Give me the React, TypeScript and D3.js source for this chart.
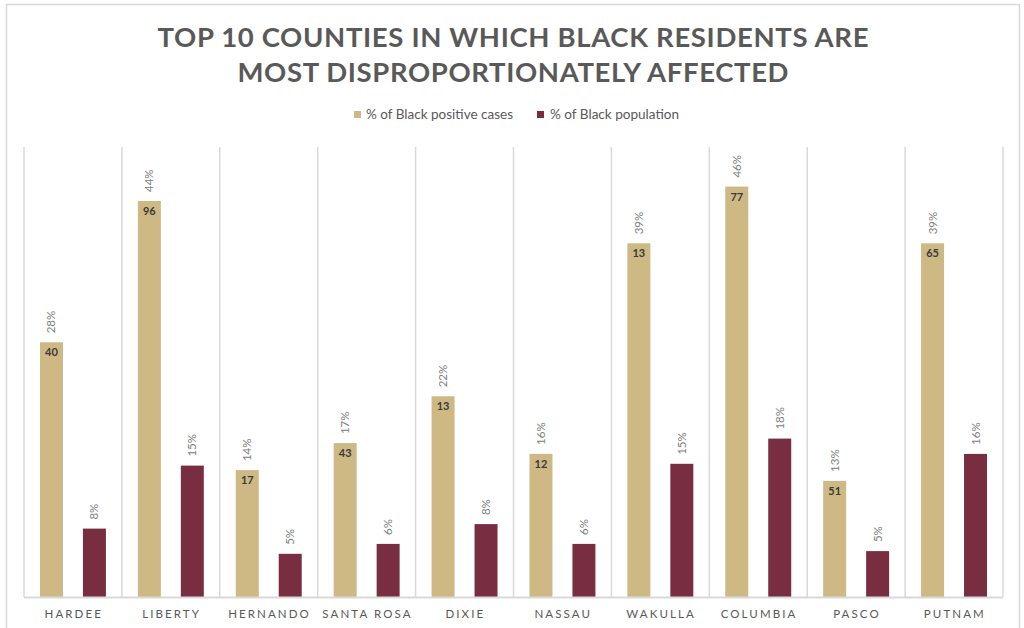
import React from "react";
import * as d3 from "d3";

const counties = ["HARDEE", "LIBERTY", "HERNANDO", "SANTA ROSA", "DIXIE", "NASSAU", "WAKULLA", "COLUMBIA", "PASCO", "PUTNAM"];
const positiveShare = [0.283, 0.44, 0.141, 0.171, 0.223, 0.159, 0.393, 0.456, 0.129, 0.393];
const populationShare = [0.076, 0.146, 0.048, 0.059, 0.081, 0.059, 0.148, 0.176, 0.051, 0.159];
const positiveCounts = ["40", "96", "17", "43", "13", "12", "13", "77", "51", "65"];
const seriesNames = ["% of Black positive cases", "% of Black population"];
const titleLines = ["TOP 10 COUNTIES IN WHICH BLACK RESIDENTS ARE", "MOST DISPROPORTIONATELY AFFECTED"];

const GOLD = "#CEB883";
const GARNET = "#782E40";
const GRID = "#d9d9d9";
const TEXT = "#595959";
const FONT = "Lato, 'Open Sans', sans-serif";

export default function App() {
  const W = 1024, H = 628;
  const left = 24, right = 1003, top = 147, base = 597;
  const x = d3.scaleBand<string>().domain(counties).range([left, right]).padding(0);
  const sub = d3.scaleBand<string>().domain(["pos", "pop"]).range([0, x.bandwidth()])
    .paddingInner(20 / 43).paddingOuter(16 / 43);
  const y = d3.scaleLinear().domain([0, 0.5]).range([base, top]);
  const fmt = d3.format(".0%");
  const bw = sub.bandwidth();

  const boundaries = counties.map((c) => x(c)!).concat([right]);

  return (
    <div style={{ position: "fixed", left: 0, top: 0, width: W, height: H, background: "#fff" }}>
      <svg width={W} height={H} style={{ display: "block" }} fontFamily={FONT}>
        <rect x={0} y={0} width={W} height={H} fill="#fff" />
        <rect x={6.5} y={4.5} width={1013} height={700} fill="none" stroke={GRID} strokeWidth={1.5} />

        {titleLines.map((t, i) => (
          <text key={i} x={513} y={47 + i * 35} textAnchor="middle" fontSize={27.5} fontWeight={700}
            fill={TEXT} textLength={i === 0 ? 711 : 551} lengthAdjust="spacing">{t}</text>
        ))}

        {/* legend */}
        <g>
          <rect x={354} y={111} width={7} height={7} fill={GOLD} />
          <text x={366} y={118.5} fontSize={12.5} fill={TEXT} textLength={147} lengthAdjust="spacingAndGlyphs">{seriesNames[0]}</text>
          <rect x={537} y={111} width={7} height={7} fill={GARNET} />
          <text x={550} y={118.5} fontSize={12.5} fill={TEXT} textLength={129} lengthAdjust="spacingAndGlyphs">{seriesNames[1]}</text>
        </g>

        {/* gridlines */}
        {boundaries.map((bx, i) => (
          <line key={i} x1={bx} x2={bx} y1={top} y2={base} stroke={GRID} strokeWidth={1.5} />
        ))}

        {counties.map((c, i) => {
          const x0 = x(c)!;
          const gx = x0 + sub("pos")!;
          const mx = x0 + sub("pop")!;
          const gy = y(positiveShare[i]);
          const my = y(populationShare[i]);
          return (
            <g key={c}>
              <rect x={gx} y={gy} width={bw} height={base - gy} fill={GOLD} />
              <rect x={mx} y={my} width={bw} height={base - my} fill={GARNET} />
              <text x={gx + bw / 2} y={gy + 14} textAnchor="middle" fontSize={11} fontWeight={700} fill="#3a3a3a">{positiveCounts[i]}</text>
              <text transform={`translate(${gx + bw / 2 + 4},${gy - 9}) rotate(-90)`} fontSize={11.5} fill="#808080">{fmt(positiveShare[i])}</text>
              <text transform={`translate(${mx + bw / 2 + 4},${my - 9}) rotate(-90)`} fontSize={11.5} fill="#808080">{fmt(populationShare[i])}</text>
              <text x={x0 + x.bandwidth() / 2 + 0.8} y={618} textAnchor="middle" fontSize={11.5} letterSpacing={2.1} fill={TEXT}>{c}</text>
            </g>
          );
        })}

        <line x1={left} x2={right} y1={597.5} y2={597.5} stroke={GRID} strokeWidth={2} />
      </svg>
    </div>
  );
}
